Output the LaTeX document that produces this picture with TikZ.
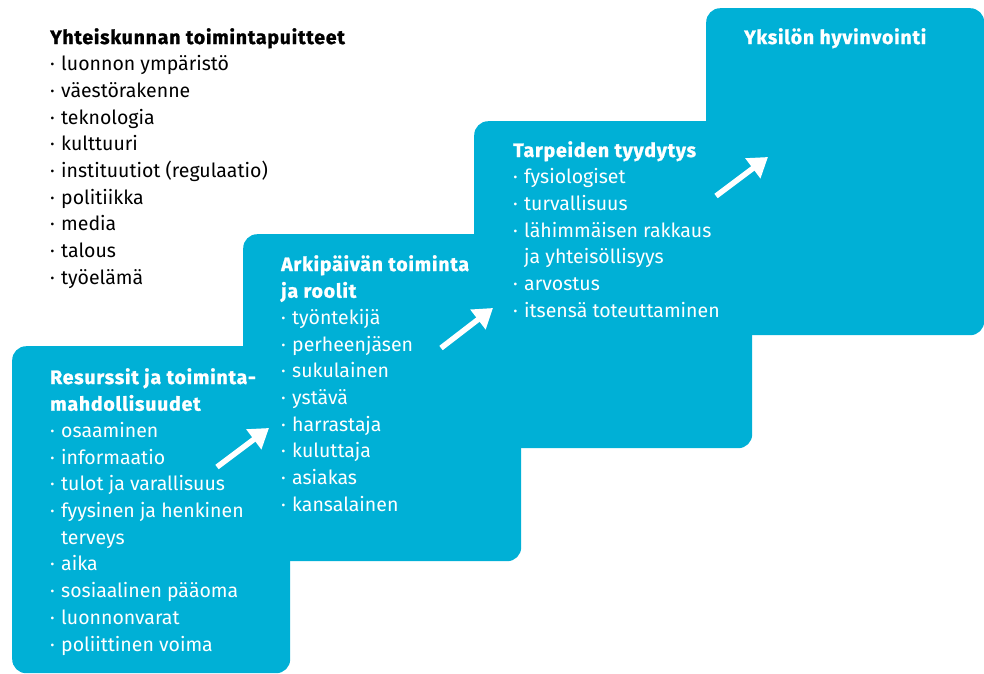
\documentclass[tikz,border=0pt]{standalone}
\usepackage{fontspec}
\setmainfont{Fira Sans}
\newfontfamily\stepheadfont[LetterSpace=4, FakeBold=1.2]{Fira Sans Bold}
\usetikzlibrary{arrows.meta}
\definecolor{step-cyan}{RGB}{0,176,214}
\newcommand{\itemdot}{\makebox[11pt][l]{·}}
\newcommand{\itemgap}{\hspace*{11pt}}
\newcommand{\stephead}[1]{{\stepheadfont #1}}
\tikzset{
    step-box/.style = {fill=step-cyan, rectangle, rounded corners=14pt, minimum width=278pt, minimum height=327pt, anchor=north west, inner sep=0pt},
    step-text/.style = {anchor=north west, inner sep=0pt, align=left, text=white, font=\fontsize{19.5}{26.7}\selectfont},
    step-arrow/.style = {draw=white, line width=5.5pt, -{Triangle[length=19pt,width=24pt]}},
}

\begin{document}
\begin{tikzpicture}[x=1pt, y=-1pt]
\useasboundingbox (0,0) rectangle (984,673);
% the four steps
\node [step-box] (box-res) at (12,346) {};
\node [step-box] (box-arki) at (243,234) {};
\node [step-box] (box-tarve) at (474,121) {};
\node [step-box] (box-hyvin) at (706,8) {};
% texts
\node [step-text, text=black] (list-frame) at (50,28) {\stephead{Yhteiskunnan toimintapuitteet}\\
    \itemdot luonnon ympäristö\\ \itemdot väestörakenne\\ \itemdot teknologia\\
    \itemdot kulttuuri\\ \itemdot instituutiot (regulaatio)\\ \itemdot politiikka\\
    \itemdot media\\ \itemdot talous\\ \itemdot työelämä};
\node [step-text] (list-res) at (50,368) {\stephead{Resurssit ja toiminta-}\\ \stephead{mahdollisuudet}\\
    \itemdot osaaminen\\ \itemdot informaatio\\ \itemdot tulot ja varallisuus\\
    \itemdot fyysinen ja henkinen\\ \itemgap terveys\\ \itemdot aika\\
    \itemdot sosiaalinen pääoma\\ \itemdot luonnonvarat\\ \itemdot poliittinen voima};
\node [step-text] (list-arki) at (281,255) {\stephead{Arkipäivän toiminta}\\ \stephead{ja roolit}\\
    \itemdot työntekijä\\ \itemdot perheenjäsen\\ \itemdot sukulainen\\ \itemdot ystävä\\
    \itemdot harrastaja\\ \itemdot kuluttaja\\ \itemdot asiakas\\ \itemdot kansalainen};
\node [step-text] (list-tarve) at (513,141) {\stephead{Tarpeiden tyydytys}\\
    \itemdot fysiologiset\\ \itemdot turvallisuus\\ \itemdot lähimmäisen rakkaus\\
    \itemgap ja yhteisöllisyys\\ \itemdot arvostus\\ \itemdot itsensä toteuttaminen};
\node [step-text] (list-hyvin) at (744,28) {\stephead{Yksilön hyvinvointi}};
% arrows
\coordinate (arrow-a-tail) at (217,467);
\coordinate (arrow-a-tip) at (269,428);
\coordinate (arrow-b-tail) at (441,348);
\coordinate (arrow-b-tip) at (493,308);
\coordinate (arrow-c-tail) at (716,196);
\coordinate (arrow-c-tip) at (768,157);
\draw [step-arrow] (arrow-a-tail) -- (arrow-a-tip);
\draw [step-arrow] (arrow-b-tail) -- (arrow-b-tip);
\draw [step-arrow] (arrow-c-tail) -- (arrow-c-tip);
\end{tikzpicture}
\end{document}
